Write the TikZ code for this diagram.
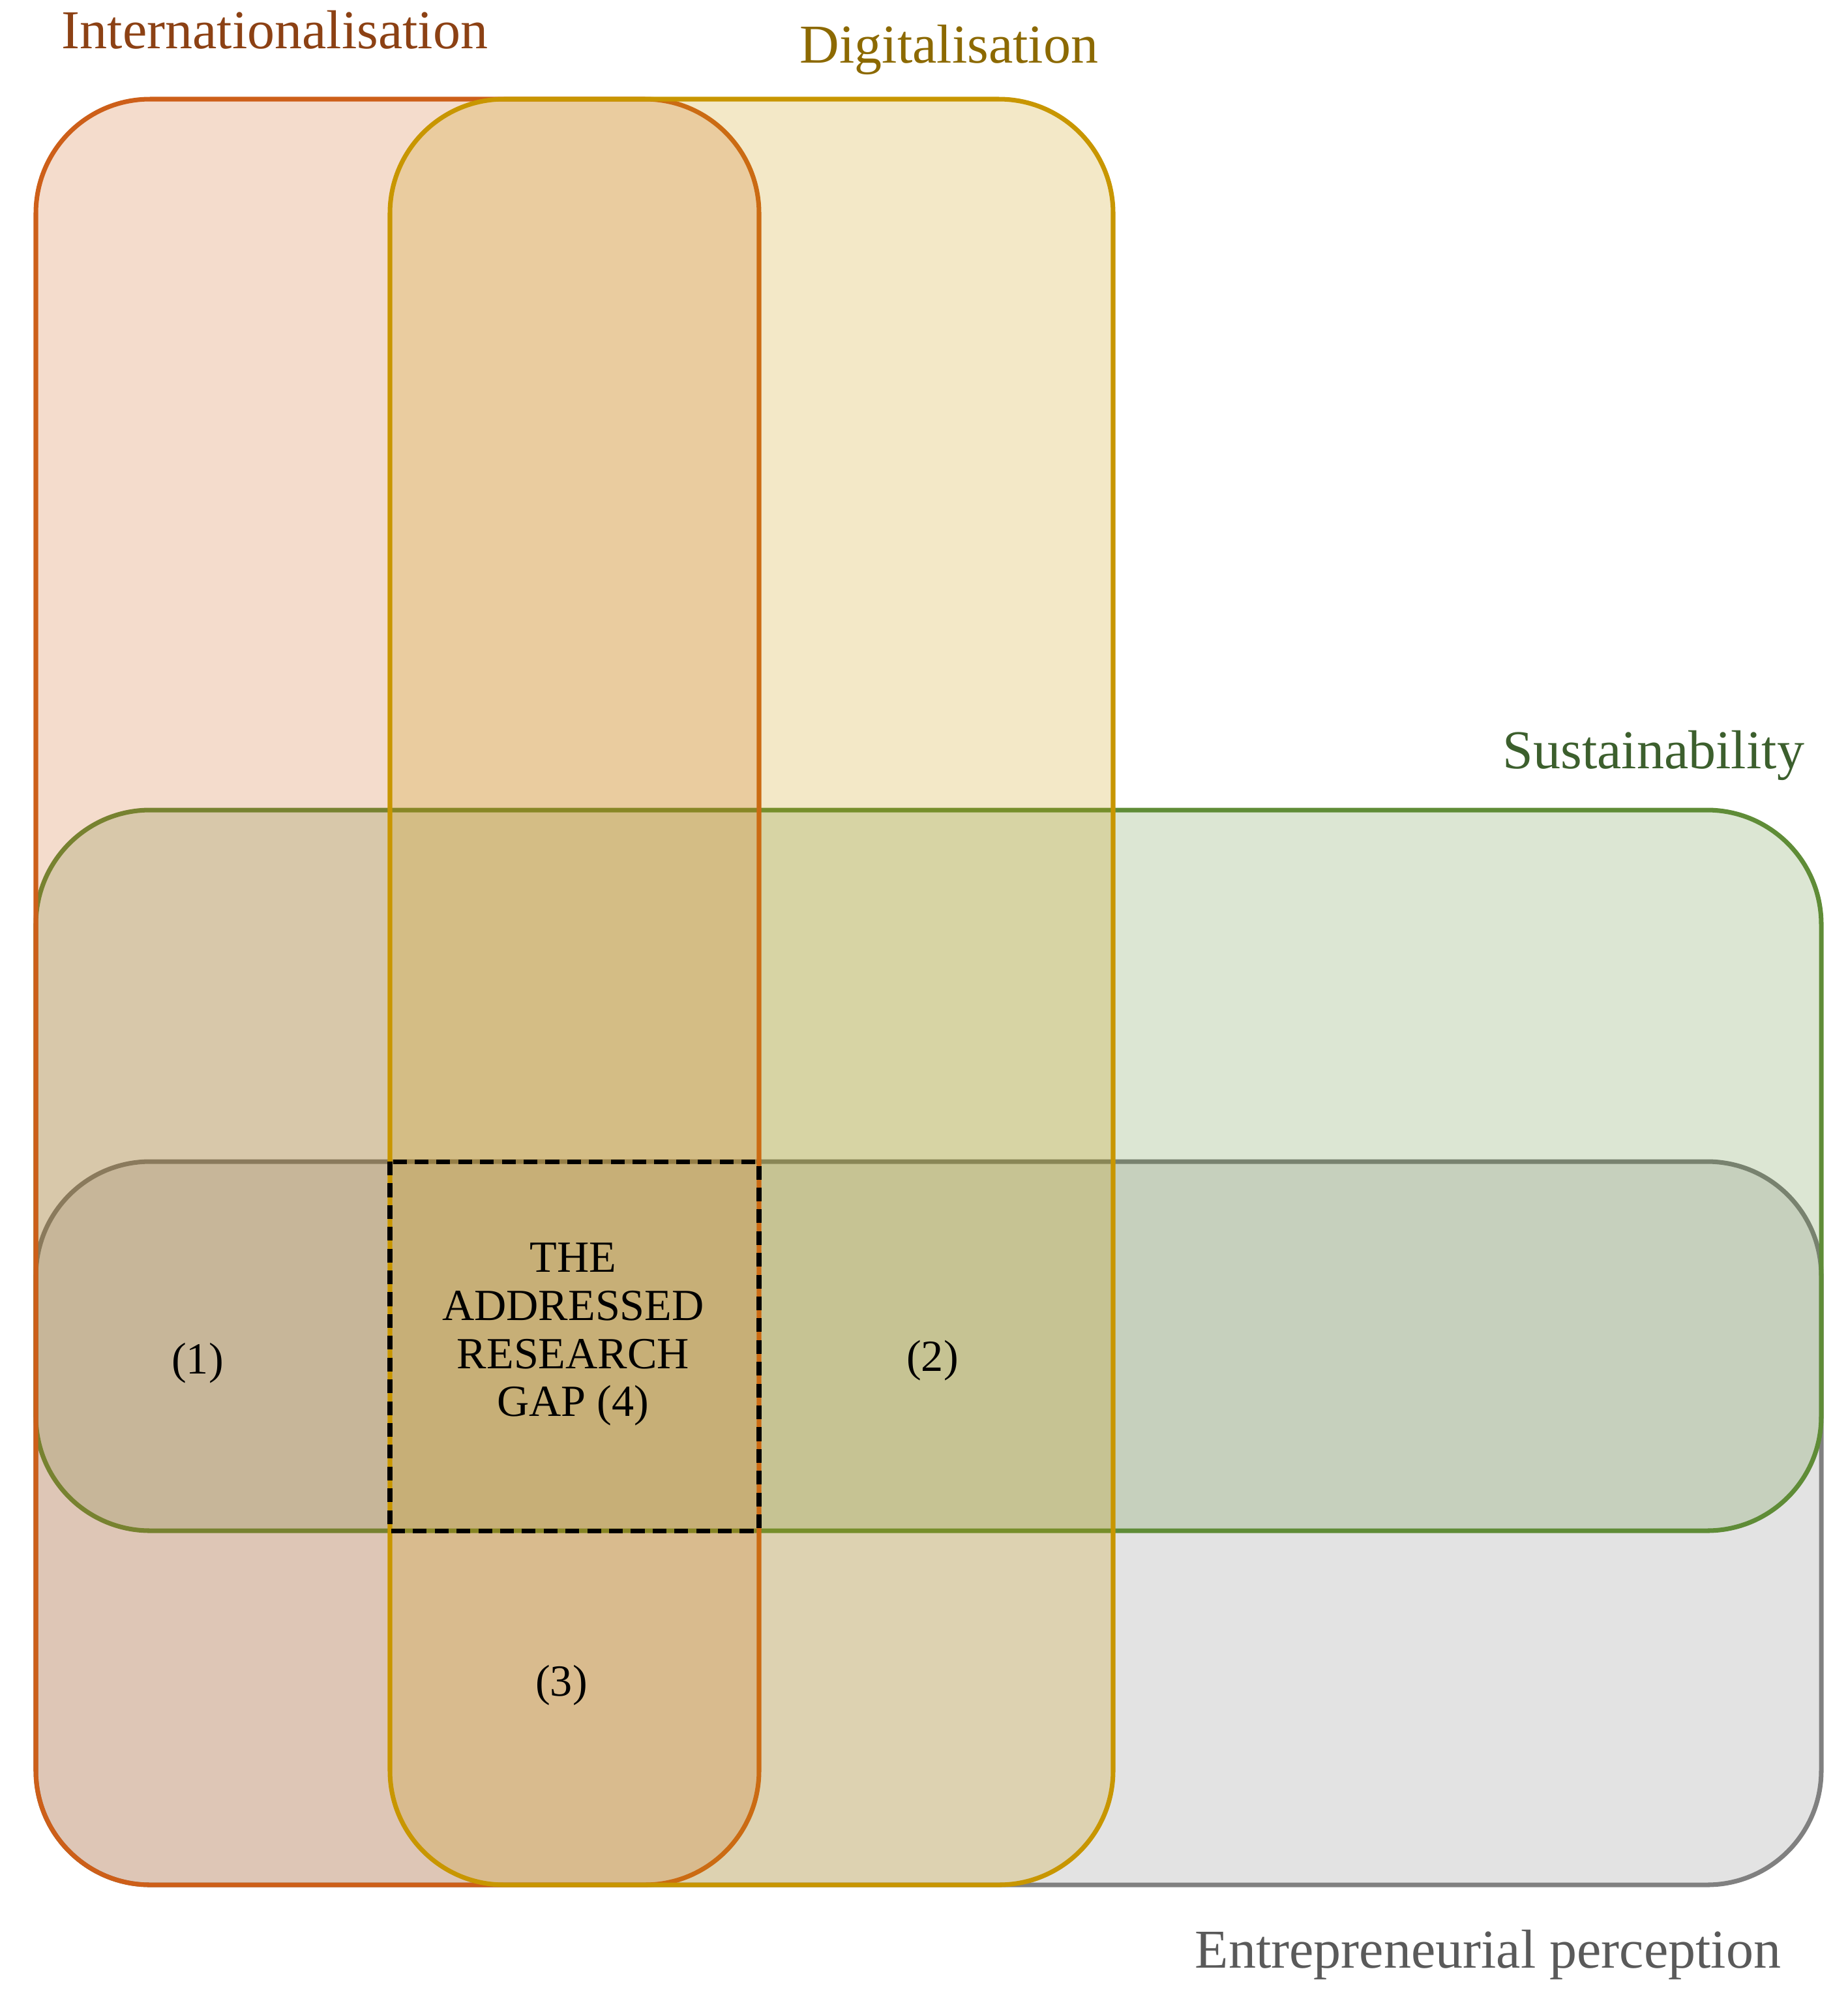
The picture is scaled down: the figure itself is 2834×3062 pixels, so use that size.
\documentclass[tikz,border=0pt]{standalone}
\usepackage{fontspec}
\setmainfont{Liberation Serif}
\definecolor{naranja}{RGB}{205,95,25}
\definecolor{amarillo}{RGB}{200,150,0}
\definecolor{verde}{RGB}{95,140,55}
\definecolor{gris}{RGB}{128,128,128}
\definecolor{tnaranja}{RGB}{140,65,20}
\definecolor{tamarillo}{RGB}{140,105,0}
\definecolor{tverde}{RGB}{60,95,45}
\definecolor{tgris}{RGB}{90,90,90}
\begin{document}
\begin{tikzpicture}[x=0.01cm,y=-0.01cm,
    conjunto/.style={line width=2pt,rounded corners=1.75cm,fill opacity=0.22},
    titulo/.style={anchor=base west,inner sep=0pt,font=\fontsize{23.9}{27}\selectfont},
    numero/.style={font=\fontsize{19.4}{21}\selectfont}]
    		\useasboundingbox (0,0) rectangle (2834,3062);
    		%conjuntos
  		\draw [conjunto,draw=gris,fill=gris] (55,1781) rectangle (2793,2890);
  		\draw [conjunto,draw=verde,fill=verde] (55,1242) rectangle (2793,2347);
  		\draw [conjunto,draw=naranja,fill=naranja] (55,152) rectangle (1164,2890);
  		\draw [conjunto,draw=amarillo,fill=amarillo] (598,152) rectangle (1707,2890);
  		%%%% HUECO!!!
  		\draw [line width=2pt,dash pattern=on 6pt off 3.5pt] (598,1781) rectangle (1164,2347);

  		\node[titulo,text=tnaranja] at (94,74) (intern) {Internationalisation};
  		\node[titulo,text=tamarillo] at (1226,96) (digit) {Digitalisation};
  		\node[titulo,text=tverde] at (2304,1178) (sosten) {Sustainability};
  		\node[titulo,text=tgris] at (1832,3017) (percep) {Entrepreneurial perception};

  		\node[numero] at (303,2090) (uno) {(1)};
  		\node[numero] at (1430,2086) (dos) {(2)};
  		\node[numero] at (861,2584) (tres) {(3)};
  		\node[numero,align=center] at (879,2046) (hueco) {THE\\ADDRESSED\\RESEARCH\\GAP (4)};
\end{tikzpicture}
\end{document}
